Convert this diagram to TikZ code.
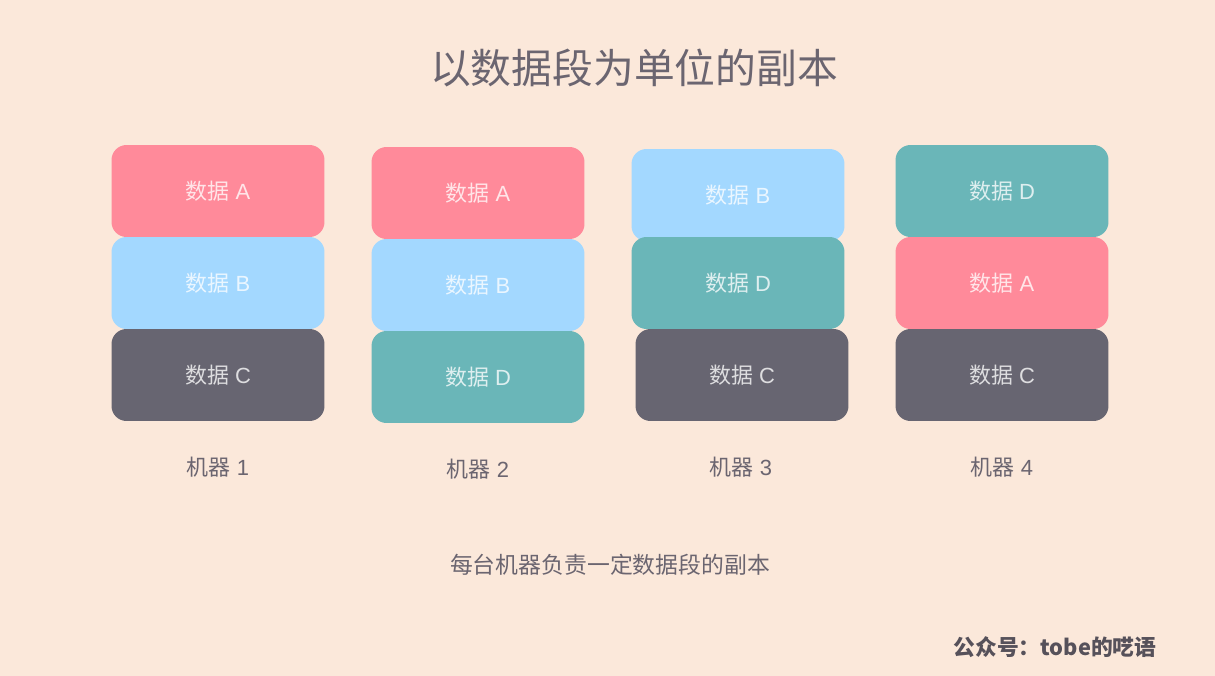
\documentclass[tikz,border=0pt]{standalone}
\usepackage{fontspec}
\setmainfont{Liberation Sans}
\newfontfamily\cjk{Noto Sans CJK SC}
\definecolor{bgPeach}{HTML}{FBE8DA}
\definecolor{segPink}{HTML}{FF8A9A}
\definecolor{segBlue}{HTML}{A3D8FF}
\definecolor{segTeal}{HTML}{6AB6B8}
\definecolor{segGrey}{HTML}{676571}
\definecolor{inkGrey}{HTML}{6B6570}
\tikzset{
	segment/.style = {rounded corners = 0.3cm, minimum width = 4.26cm, minimum height = 1.84cm,
		inner sep = 0pt, text = white, text opacity = 0.78, font = \fontsize{12.5}{14}\selectfont},
	label/.style = {text = inkGrey, font = \fontsize{12.5}{14}\selectfont}
}
\begin{document}
\begin{tikzpicture}[x = 0.02cm, y = -0.02cm]
			\fill[bgPeach] (0,0) rectangle (1215,676);
			\useasboundingbox (0,0) rectangle (1215,676);
			
			\node[text = inkGrey, font = \cjk\fontsize{23.2}{26}\selectfont] (title) at (634,68) {以数据段为单位的副本};
			
			\foreach \m/\r/\x/\y/\col/\seg in {1/1/218/191/segPink/A, 1/2/218/283/segBlue/B, 1/3/218/375/segGrey/C,
				2/1/478/193/segPink/A, 2/2/478/285/segBlue/B, 2/3/478/377/segTeal/D,
				3/1/738/195/segBlue/B, 3/2/738/283/segTeal/D, 3/3/742/375/segGrey/C,
				4/1/1002/191/segTeal/D, 4/2/1002/283/segPink/A, 4/3/1002/375/segGrey/C}{
				
				\node[segment, fill = \col] (m\m-\r) at (\x,\y) {{\cjk 数据} \seg};
			}
			
			\foreach \m/\x/\y in {1/218/467, 2/478/469, 3/741/467, 4/1002/467}{
				
				\node[label] (machine\m) at (\x,\y) {{\cjk 机器} \m};
			}
			
			\node[text = inkGrey, font = \cjk\fontsize{13}{15}\selectfont] (caption) at (610,565) {每台机器负责一定数据段的副本};
			\node[text = inkGrey!80!black, font = \cjk\bfseries\fontsize{12.4}{14}\selectfont] (mark) at (1055,647) {公众号：tobe的呓语};
		\end{tikzpicture}
\end{document}
